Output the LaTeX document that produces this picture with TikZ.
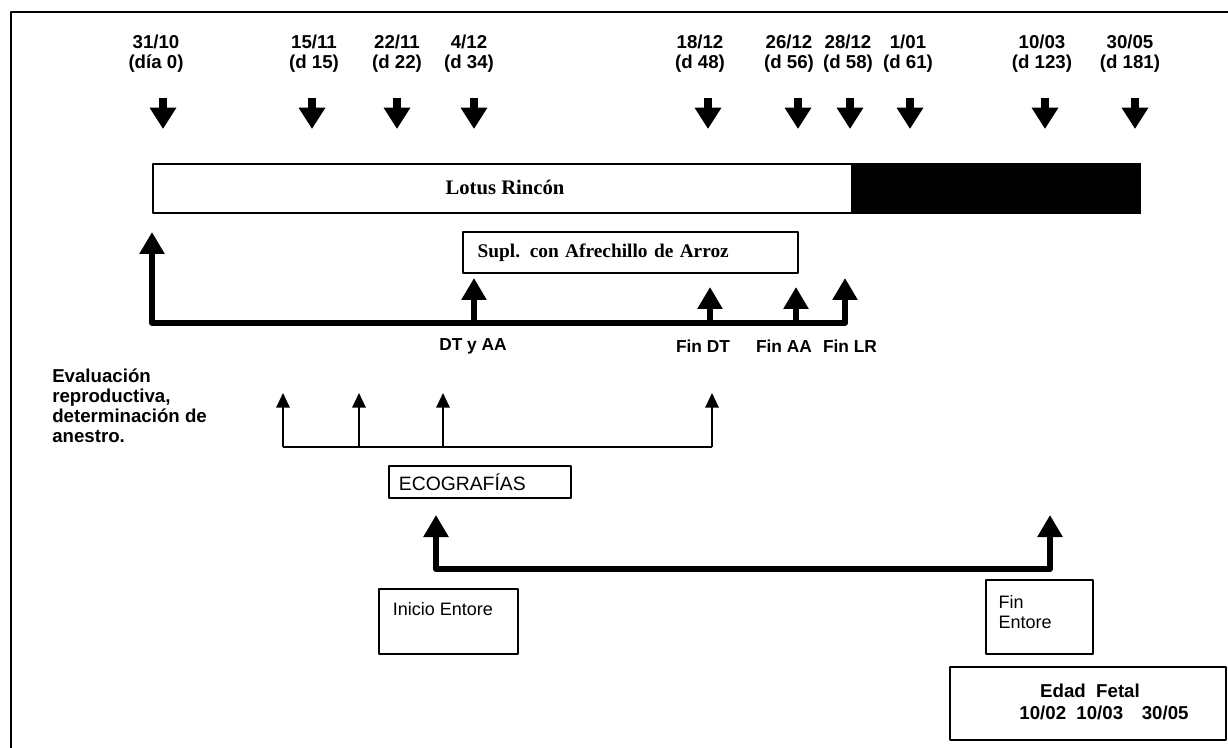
\documentclass[tikz,border=0pt]{standalone}
\usepackage{fontspec}
\setmainfont{Liberation Sans}
\newfontfamily\timesfont{Liberation Serif}
\usetikzlibrary{arrows.meta,positioning}
\begin{document}
\begin{tikzpicture}[x=0.75pt,y=-0.75pt,line join=round,
	lblb/.style={font=\bfseries\fontsize{14}{15}\selectfont,inner sep=0pt},
	lbls/.style={font=\bfseries\fontsize{13}{15}\selectfont,inner sep=0pt},
	lblr/.style={font=\fontsize{13.5}{15}\selectfont,inner sep=0pt},
	serifb/.style={font=\timesfont\bfseries\fontsize{#1}{#1}\selectfont,inner sep=0pt},
	frbox/.style 2 args={draw,line width=1.5pt,inner sep=0pt,anchor=north west,minimum width=#1,minimum height=#2},
	downarr/.style={line width=6pt,-{Triangle[width=19pt,length=16pt]}},
	uparr/.style={line width=4.5pt,-{Triangle[width=18pt,length=16.5pt]}},
	thinarr/.style={line width=1.5pt,-{Triangle[width=10pt,length=11pt]}}]
	\useasboundingbox (0,0) rectangle (1228,748);
	% marco
	\draw[line width=2pt] (11,748) -- (11,12) -- (1228,12);
	% fechas
	\foreach \n/\lx/\ax/\t in {d0/156/163/{31/10\\(día 0)}, d15/314/312/{15/11\\(d 15)}, d22/397/397/{22/11\\(d 22)}, d34/469/474/{4/12\\(d 34)}, d48/700/708/{18/12\\(d 48)}, d56/789/798/{26/12\\(d 56)}, d58/848/850/{28/12\\(d 58)}, d61/908/910/{1/01\\(d 61)}, d123/1042/1045/{10/03\\(d 123)}, d181/1130/1135/{30/05\\(d 181)}}{
		\node[lblb,align=center,anchor=north] (\n) at (\lx,35) {\t};
		\draw[downarr] (\ax,98) -- (\ax,129);
	}
	% Lotus Rincon
	\node[frbox={740.25pt}{36.75pt}] (lotus) at (152,163) {};
	\fill (851,163) rectangle (lotus.south east);
	\node[serifb=15.5] (lotustxt) at (505,187) {Lotus Rincón};
	\node[frbox={251.25pt}{30.75pt},serifb=14.5,align=left,text width=229.25pt,inner xsep=11pt] (supl) at (462,231) {Supl. con Afrechillo de Arroz};
	\draw[line width=4.5pt,line cap=round] (152,323) -- (845,323);
	\foreach \x/\y in {152/232,474/278,710/287,796/287,845/278}
		\draw[uparr] (\x,323) -- (\x,\y);
	\node[lbls] (dtaa) at (473,346) {DT y AA};
	\node[lbls] (findt) at (703,346) {Fin DT};
	\node[lbls] (finaa) at (784,346) {Fin AA};
	\node[lbls] (finlr) at (850,346) {Fin LR};
	% ecografias
	\node[lblb,align=left,anchor=north west] (eval) at (52,369) {Evaluación\\reproductiva,\\determinación de\\anestro.};
	\draw[line width=1.5pt] (283,447) -- (712,447);
	\foreach \x in {283,359,443,712}
		\draw[thinarr] (\x,447) -- (\x,393);
	\node[frbox={136.5pt}{24pt}] (eco) at (388,465) {};
	\node[lblr,font=\fontsize{14.5}{15}\selectfont,right=8pt of eco.west] (ecotxt) {ECOGRAFÍAS};
	% entore
	\draw[line width=4.5pt,line cap=round] (436,569) -- (1050,569);
	\foreach \x in {436,1050}
		\draw[uparr] (\x,569) -- (\x,515);
	\node[frbox={104.25pt}{48.75pt}] (ini) at (378,588) {};
	\node[lblr,below right=11pt and 11pt of ini.north west] (initxt) {Inicio Entore};
	\node[frbox={80.25pt}{55.5pt}] (fin) at (985,579) {};
	\node[lblr,align=left,below right=12pt and 10pt of fin.north west] (fintxt) {Fin\\Entore};
	\node[frbox={207pt}{54.75pt}] (edad) at (949,666) {};
	\node[lblb] (edadtxt) at (1090,691) {Edad\ \ Fetal};
	\node[lblb] (edadfch) at (1104,713) {10/02\ \ 10/03\quad 30/05};
\end{tikzpicture}
\end{document}
